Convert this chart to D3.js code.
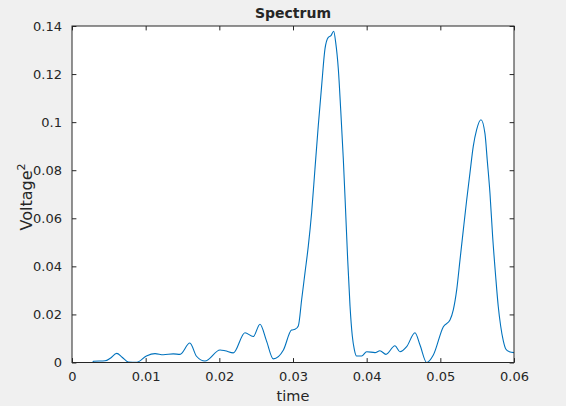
<!DOCTYPE html>
<html>
<head>
<meta charset="utf-8">
<script src="https://cdn.jsdelivr.net/npm/d3@7"></script>
<style>
  html, body { margin: 0; padding: 0; background: #f0f0f0; }
  svg { display: block; }
  text { font-family: "DejaVu Sans", sans-serif; fill: #262626; }
</style>
</head>
<body>
<svg id="chart" width="566" height="406"></svg>
<script>
const timeValues = [
  0, 0.0028, 0.0029, 0.0045, 0.0052, 0.00607, 0.0068, 0.00765, 0.0088, 0.0101,
  0.01127, 0.0124, 0.01375, 0.01466, 0.016, 0.0169, 0.01805, 0.0201, 0.02077, 0.0219,
  0.02348, 0.0246, 0.02552, 0.0264, 0.02733, 0.0287, 0.0298, 0.03027, 0.03072, 0.03118,
  0.03163, 0.03208, 0.03253, 0.03298, 0.03343, 0.03389, 0.03434, 0.03479, 0.03516, 0.03552,
  0.03579, 0.03615, 0.03647, 0.03683, 0.03715, 0.03742, 0.03774, 0.03805, 0.03832, 0.03864,
  0.03932, 0.04, 0.04113, 0.0418, 0.04262, 0.04384, 0.04452, 0.04543, 0.04656, 0.04724,
  0.04815, 0.04905, 0.05041, 0.05131, 0.05176, 0.05222, 0.05267, 0.05312, 0.05358, 0.05402,
  0.05447, 0.05493, 0.05552, 0.05606, 0.05637, 0.05674, 0.0571, 0.05751, 0.05786, 0.05819,
  0.05855, 0.05891, 0.05936, 0.06
];
const voltage2Values = [
  0, 0, 0.0005, 0.0007, 0.0018, 0.0038, 0.0022, 0.0002, 0.0001, 0.0027,
  0.0037, 0.0032, 0.0036, 0.0034, 0.0081, 0.0026, 0.0006, 0.0052, 0.0049, 0.004,
  0.0124, 0.0108, 0.0159, 0.009, 0.0015, 0.0052, 0.0135, 0.0138, 0.0152, 0.0263,
  0.0374, 0.0485, 0.0624, 0.0805, 0.0985, 0.1152, 0.1305, 0.1353, 0.136, 0.1378,
  0.1333, 0.1222, 0.1055, 0.0847, 0.0624, 0.043, 0.0235, 0.011, 0.0055, 0.0027,
  0.0027, 0.0045, 0.0041, 0.0049, 0.0034, 0.007, 0.0045, 0.0066, 0.0124, 0.0073,
  0, 0.0031, 0.0149, 0.0177, 0.0219, 0.0302, 0.0427, 0.0552, 0.0677, 0.0788,
  0.0899, 0.0969, 0.101, 0.0952, 0.0841, 0.0703, 0.0524, 0.0359, 0.0234, 0.0152,
  0.009, 0.0055, 0.0045, 0.0041
];
const xTicks = [0, 0.01, 0.02, 0.03, 0.04, 0.05, 0.06];
const xTickLabels = ["0", "0.01", "0.02", "0.03", "0.04", "0.05", "0.06"];
const yTicks = [0, 0.02, 0.04, 0.06, 0.08, 0.1, 0.12, 0.14];
const yTickLabels = ["0", "0.02", "0.04", "0.06", "0.08", "0.1", "0.12", "0.14"];

const mLeft = 72, mRight = 514, mTop = 26, mBottom = 362.5;
const svg = d3.select("#chart");
const x = d3.scaleLinear().domain([0, 0.06]).range([mLeft, mRight]);
const y = d3.scaleLinear().domain([0, 0.14]).range([mBottom, mTop]);
const axisColor = "#262626";
const tickLen = 4.4;

svg.append("rect").attr("x", mLeft).attr("y", mTop)
  .attr("width", mRight - mLeft).attr("height", mBottom - mTop).attr("fill", "#fff");

const data = timeValues.map((t, i) => ({t, v: voltage2Values[i]}));
svg.append("path").datum(data)
  .attr("fill", "none").attr("stroke", "#0072BD").attr("stroke-width", 1.1)
  .attr("stroke-linejoin", "round")
  .attr("d", d3.line().curve(d3.curveMonotoneX).x(d => x(d.t)).y(d => y(d.v)));

function styleAxis(g) {
  g.select(".domain").remove();
  g.selectAll(".tick line").attr("stroke", axisColor);
  g.selectAll(".tick text").attr("font-size", "13px").attr("fill", axisColor)
    .style("font-family", '"DejaVu Sans", sans-serif');
}

svg.append("g").attr("transform", `translate(0,${mBottom})`)
  .call(d3.axisBottom(x).tickValues(xTicks).tickSizeInner(-tickLen).tickSizeOuter(0).tickPadding(9)
    .tickFormat((d, i) => xTickLabels[i]))
  .call(styleAxis);
svg.append("g").attr("transform", `translate(${mLeft},0)`)
  .call(d3.axisLeft(y).tickValues(yTicks).tickSizeInner(-tickLen).tickSizeOuter(0).tickPadding(10)
    .tickFormat((d, i) => yTickLabels[i]))
  .call(styleAxis);
svg.append("g").attr("transform", `translate(0,${mTop})`)
  .call(d3.axisTop(x).tickValues(xTicks).tickSizeInner(-tickLen).tickSizeOuter(0).tickFormat(""))
  .call(styleAxis);
svg.append("g").attr("transform", `translate(${mRight},0)`)
  .call(d3.axisRight(y).tickValues(yTicks).tickSizeInner(-tickLen).tickSizeOuter(0).tickFormat(""))
  .call(styleAxis);

svg.append("rect").attr("x", mLeft).attr("y", mTop)
  .attr("width", mRight - mLeft).attr("height", mBottom - mTop)
  .attr("fill", "none").attr("stroke", axisColor).attr("stroke-width", 1);

svg.append("text").attr("x", (mLeft + mRight) / 2).attr("y", 18)
  .attr("text-anchor", "middle").attr("font-size", "14px").attr("font-weight", "bold")
  .attr("fill", "#000").text("Spectrum");

svg.append("text").attr("x", (mLeft + mRight) / 2).attr("y", 401)
  .attr("text-anchor", "middle").attr("font-size", "14.5px").text("time");

const yl = svg.append("text").attr("transform", `translate(31.5,197) rotate(-90)`)
  .attr("text-anchor", "middle").attr("font-size", "16px");
yl.append("tspan").text("Voltage");
yl.append("tspan").attr("font-size", "11px").attr("dy", "-7").text("2");
</script>
</body>
</html>
